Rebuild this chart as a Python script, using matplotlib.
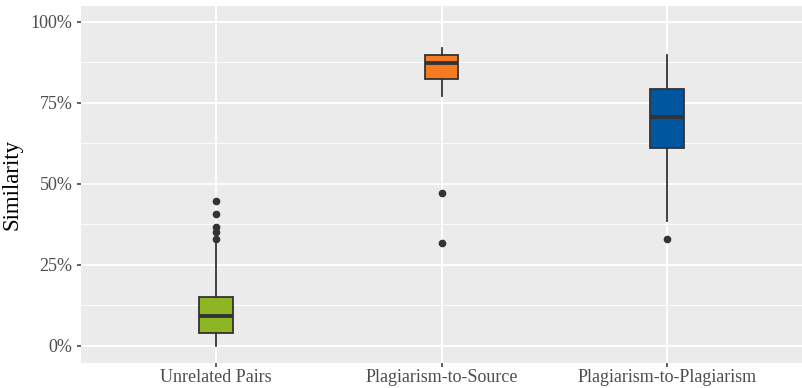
import matplotlib.pyplot as plt
from matplotlib.ticker import FuncFormatter

# Box statistics (similarity, %)
categories = ["Unrelated Pairs", "Plagiarism-to-Source", "Plagiarism-to-Plagiarism"]
whisker_low = [0.0, 76.9, 38.4]
q1 = [4.0, 82.3, 61.0]
median = [9.3, 87.2, 70.4]
q3 = [15.1, 89.6, 79.2]
whisker_high = [31.8, 91.7, 89.7]
outliers = [
    [44.7, 40.7, 36.7, 35.0, 33.0],
    [47.1, 31.7],
    [33.0],
]
fill_colors = ["#8DB524", "#F47B20", "#0057A0"]

plt.rcParams["font.family"] = ["Liberation Serif", "DejaVu Serif"]

fig = plt.figure(figsize=(8.02, 3.88), dpi=100)
ax = fig.add_axes([81 / 802, 1 - 362.5 / 388, 1 - 81 / 802, (362.5 - 6) / 388])
ax.set_facecolor("#EBEBEB")

stats = []
for i, name in enumerate(categories):
    stats.append({
        "label": name,
        "whislo": whisker_low[i],
        "q1": q1[i],
        "med": median[i],
        "q3": q3[i],
        "whishi": whisker_high[i],
        "fliers": outliers[i],
    })

positions = list(range(1, len(categories) + 1))
bp = ax.bxp(stats, positions=positions, widths=0.15, patch_artist=True,
            showcaps=False, zorder=3,
            boxprops=dict(edgecolor="#333333", linewidth=1.3),
            whiskerprops=dict(color="#333333", linewidth=1.3),
            medianprops=dict(color="#333333", linewidth=2.8, solid_capstyle="butt"),
            flierprops=dict(marker="o", markerfacecolor="#333333",
                            markeredgecolor="#333333", markersize=4.5))
for patch, c in zip(bp["boxes"], fill_colors):
    patch.set_facecolor(c)

# ggplot-like grid
for y in [12.5, 37.5, 62.5, 87.5]:
    ax.axhline(y, color="white", linewidth=0.7, zorder=1)
ax.grid(True, color="white", linewidth=1.4, zorder=1)
ax.set_axisbelow(True)

ax.set_xlim(0.4, 3.6)
ax.set_ylim(-5.2, 104.8)
ax.set_yticks([0, 25, 50, 75, 100])
ax.yaxis.set_major_formatter(FuncFormatter(lambda v, p: f"{v:.0f}%"))
ax.set_xticks(positions)
ax.set_xticklabels(categories)

for s in ax.spines.values():
    s.set_visible(False)
ax.tick_params(axis="both", colors="#333333", length=3, width=1.1,
               labelcolor="#4D4D4D", labelsize=13)
ax.tick_params(axis="x", pad=2)
ax.tick_params(axis="y", pad=3)
ax.set_ylabel("Similarity", fontsize=16.5, color="black", labelpad=6)

fig.savefig("out.png", dpi=100)
